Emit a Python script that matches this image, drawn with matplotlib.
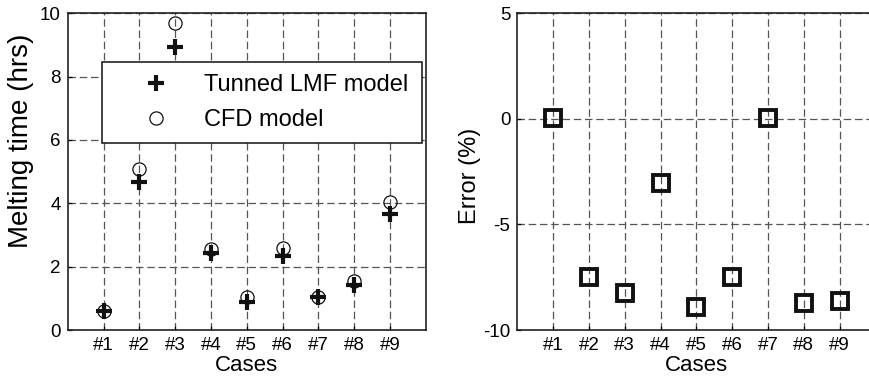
import numpy as np
import matplotlib.pyplot as plt

plt.rcParams['font.family'] = ['Liberation Sans', 'DejaVu Sans']
plt.rcParams['axes.unicode_minus'] = False

# Dados
cases = ['#1', '#2', '#3', '#4', '#5', '#6', '#7', '#8', '#9']
lmf_time = [0.61, 4.68, 8.93, 2.42, 0.89, 2.34, 1.03, 1.42, 3.65]
cfd_time = [0.61, 5.10, 9.70, 2.55, 1.03, 2.60, 1.03, 1.55, 4.05]
error_pct = [0.05, -7.47, -8.26, -3.05, -8.90, -7.47, 0.05, -8.74, -8.63]

def style_axes(ax, ylim, yticks, ylabel, ylabel_size):
    x = np.arange(1, len(cases) + 1)
    ax.set_xlim(0, 10)
    ax.set_ylim(*ylim)
    ax.set_xticks(x)
    ax.set_xticklabels(cases)
    ax.set_yticks(yticks)
    ax.tick_params(direction='in', length=3, width=0.9, labelsize=13.5, pad=5)
    ax.set_xlabel('Cases', fontsize=16, labelpad=1)
    ax.set_ylabel(ylabel, fontsize=ylabel_size)
    ax.grid(True, color='#555555', linestyle=(0, (6, 3)), linewidth=0.9)
    ax.set_axisbelow(True)
    for s in ax.spines.values():
        s.set_linewidth(1.2)
        s.set_color('#222222')
    return x

def main():
    fig = plt.figure(figsize=(8.69, 3.84), dpi=100)

    # Grafico da esquerda - tempo de fusao
    ax1 = fig.add_axes([0.0779, 0.1406, 0.4123, 0.8247])
    x = style_axes(ax1, (0, 10), [0, 2, 4, 6, 8, 10], 'Melting time (hrs)', 20)
    ax1.yaxis.set_label_coords(-0.094, 0.597)
    h_cfd, = ax1.plot(x, cfd_time, linestyle='none', marker='o', markersize=9.5,
                      markerfacecolor='none', markeredgecolor='#111111',
                      markeredgewidth=0.9, label='CFD model')
    h_lmf, = ax1.plot(x, lmf_time, linestyle='none', marker='+', markersize=11,
                      color='#111111', markeredgewidth=3, label='Tunned LMF model')
    leg = ax1.legend(handles=[h_lmf, h_cfd], loc='lower left',
                     bbox_to_anchor=(0.095, 0.59, 0.895, 0.256), mode='expand',
                     fontsize=17, frameon=True, fancybox=False, framealpha=1,
                     edgecolor='#222222', borderpad=0.5, handlelength=3.6,
                     handletextpad=0.25, labelspacing=0.57, borderaxespad=0)
    leg.get_frame().set_linewidth(1.2)

    # Grafico da direita - erro
    ax2 = fig.add_axes([0.5953, 0.1406, 0.412, 0.8247])
    x = style_axes(ax2, (-10, 5), [-10, -5, 0, 5], 'Error (%)', 17)
    ax2.yaxis.set_label_coords(-0.101, 0.486)
    ax2.plot(x, error_pct, linestyle='none', marker='s', markersize=11,
             markerfacecolor='none', markeredgecolor='#111111', markeredgewidth=2.8)

    plt.savefig('out.png', format='png', dpi=100)

if __name__ == "__main__":
    main()
